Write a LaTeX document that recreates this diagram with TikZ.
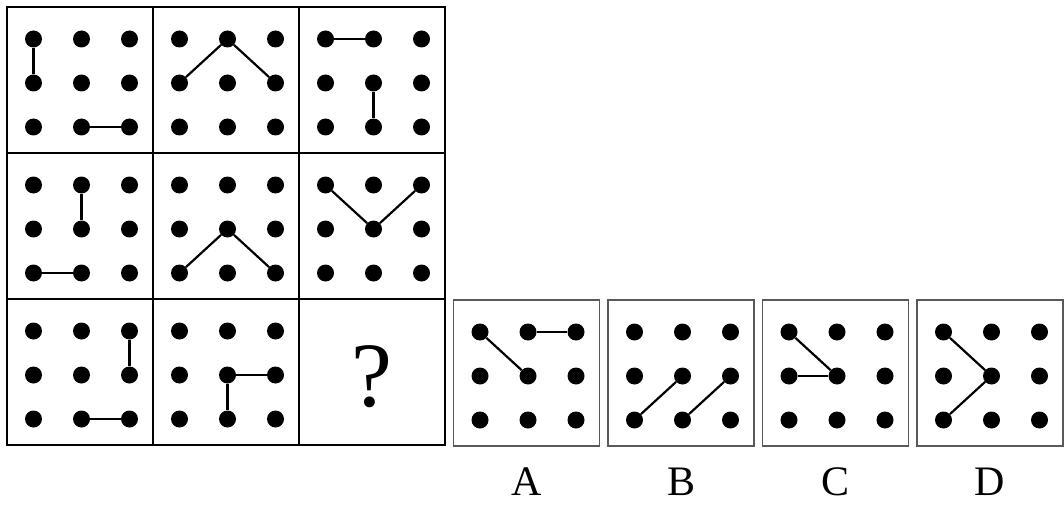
\documentclass[tikz,border=0pt]{standalone}
\usepackage{fontspec}
\setmainfont{Liberation Serif}
\usetikzlibrary{positioning}

\newcommand{\dotgrid}[1]{%
  \foreach \ci/\dx in {1/-46.5,2/1.5,3/49.5}{%
    \foreach \ri/\dy in {1/-41,2/3,3/47}{%
      \node[dot] (#1-\ci\ri) at ([shift={(\dx,\dy)}]#1.center) {};
    }%
  }%
}

\begin{document}
\begin{tikzpicture}[
        x=1pt, y=-1pt,
        cell/.style={
            rectangle,
            draw=black,
            line width=1.4pt,
            minimum size=146pt,
            inner sep=0pt,
            outer sep=0pt
        },
        option/.style={
            rectangle,
            draw=black!65,
            line width=1.3pt,
            minimum size=146pt,
            inner sep=0pt
        },
        dot/.style={circle, fill=black, minimum size=17pt, inner sep=0pt},
        link/.style={line width=2.2pt},
        optlabel/.style={inner sep=0pt, font=\fontsize{42}{42}\selectfont},
        qmark/.style={inner sep=0pt, font=\fontsize{92}{92}\selectfont}
    ]
    \useasboundingbox (0,0) rectangle (1064,505);

    % the 3x3 matrix
    \node[cell] (r1c1) at (80,80) {};
    \node[cell, right=0pt of r1c1] (r1c2) {};
    \node[cell, right=0pt of r1c2] (r1c3) {};
    \node[cell, below=0pt of r1c1] (r2c1) {};
    \node[cell, right=0pt of r2c1] (r2c2) {};
    \node[cell, right=0pt of r2c2] (r2c3) {};
    \node[cell, below=0pt of r2c1] (r3c1) {};
    \node[cell, right=0pt of r3c1] (r3c2) {};
    \node[cell, right=0pt of r3c2] (r3c3) {};

    \dotgrid{r1c1} \dotgrid{r1c2} \dotgrid{r1c3}
    \dotgrid{r2c1} \dotgrid{r2c2} \dotgrid{r2c3}
    \dotgrid{r3c1} \dotgrid{r3c2}

    \node[qmark] (q) at ([yshift=-5pt]r3c3.center) {?};

    % answer options
    \node[option] (optA) at (526.5,373) {};
    \node[option, right=7.2pt of optA] (optB) {};
    \node[option, right=7.2pt of optB] (optC) {};
    \node[option, right=7.2pt of optC] (optD) {};

    \dotgrid{optA} \dotgrid{optB} \dotgrid{optC} \dotgrid{optD}

    \node[optlabel, below=21pt of optA] (labA) {A};
    \node[optlabel, below=21pt of optB] (labB) {B};
    \node[optlabel, below=21pt of optC] (labC) {C};
    \node[optlabel, below=21pt of optD] (labD) {D};

    % connecting lines
    \draw[link] (r1c1-11) -- (r1c1-12);
    \draw[link] (r1c1-23) -- (r1c1-33);
    \draw[link] (r1c2-12) -- (r1c2-21) -- (r1c2-32);
    \draw[link] (r1c3-11) -- (r1c3-21);
    \draw[link] (r1c3-22) -- (r1c3-23);

    \draw[link] (r2c1-21) -- (r2c1-22);
    \draw[link] (r2c1-13) -- (r2c1-23);
    \draw[link] (r2c2-13) -- (r2c2-22) -- (r2c2-33);
    \draw[link] (r2c3-11) -- (r2c3-22) -- (r2c3-31);

    \draw[link] (r3c1-31) -- (r3c1-32);
    \draw[link] (r3c1-23) -- (r3c1-33);
    \draw[link] (r3c2-22) -- (r3c2-32);
    \draw[link] (r3c2-22) -- (r3c2-23);

    \draw[link] (optA-11) -- (optA-22);
    \draw[link] (optA-21) -- (optA-31);
    \draw[link] (optB-13) -- (optB-22);
    \draw[link] (optB-23) -- (optB-32);
    \draw[link] (optC-11) -- (optC-22);
    \draw[link] (optC-12) -- (optC-22);
    \draw[link] (optD-11) -- (optD-22) -- (optD-13);

\end{tikzpicture}
\end{document}
